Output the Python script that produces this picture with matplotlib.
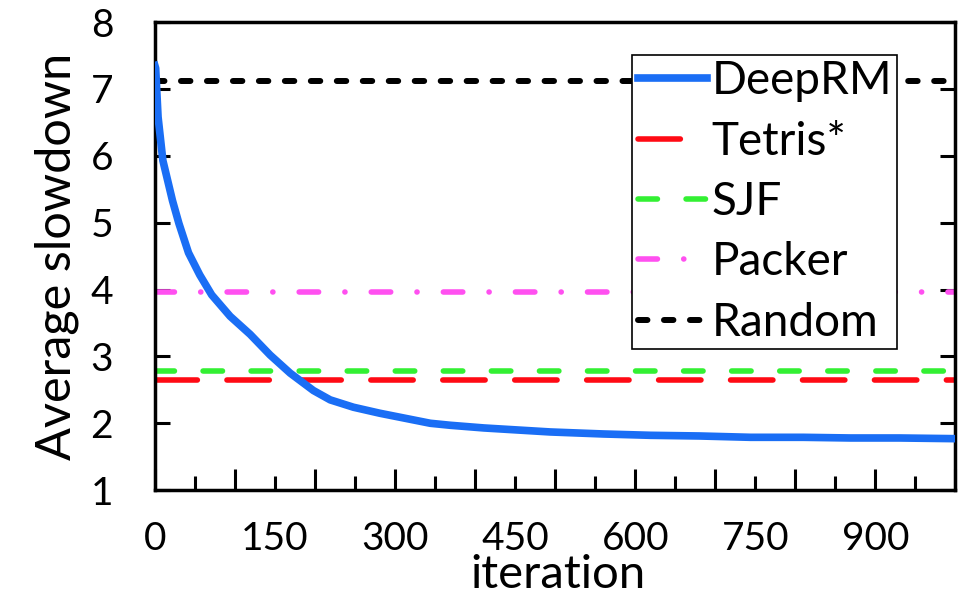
import matplotlib
matplotlib.use("Agg")
import matplotlib.pyplot as plt

plt.rcParams['font.family'] = ['Lato', 'DejaVu Sans']
plt.rcParams['lines.scale_dashes'] = False

# DeepRM learning curve
it = [0, 1, 4, 10, 22, 30, 42, 56, 71, 94, 119, 144, 169, 198, 219, 248, 281,
      344, 369, 411, 494, 560, 619, 680, 744, 810, 869, 930, 998]
deeprm = [7.35, 7.31, 6.58, 5.93, 5.33, 4.99, 4.55, 4.22, 3.92, 3.60, 3.33, 3.02,
          2.75, 2.49, 2.35, 2.24, 2.15, 2.0, 1.97, 1.93, 1.87, 1.84, 1.82, 1.81, 1.79,
          1.79, 1.78, 1.78, 1.77]

# flat baselines
tetris = 2.65
sjf = 2.78
packer = 3.97
random_ = 7.12

xticks_lab = [0, 150, 300, 450, 600, 750, 900]
yticks = [1, 2, 3, 4, 5, 6, 7, 8]

fig = plt.figure(figsize=(9.74, 5.97), dpi=100)
ax = fig.add_axes([0.159, 0.179, 0.822, 0.784])

ax.plot(it, deeprm, color='#1a6ef5', lw=5.5, label='DeepRM', zorder=5)
ax.axhline(tetris, color='#ff0a14', lw=4, dashes=(30.5, 21.3), dash_capstyle='round', label='Tetris*')
ax.axhline(sjf, color='#33f033', lw=4, dashes=(14, 20.6), dash_capstyle='round', label='SJF')
ax.axhline(packer, color='#ff50f0', lw=4, dashes=(14, 18.9, 0.1, 18.9), dash_capstyle='round', label='Packer')
ax.axhline(random_, color='black', lw=4.3, dashes=(6.8, 11.9), dash_capstyle='round', label='Random')

ax.set_xlim(0, 1000)
ax.set_ylim(1, 8)
ax.set_yticks(yticks)
ax.set_xticks(range(0, 1001, 100))
ax.set_xticks(range(50, 1000, 100), minor=True)
ax.set_xticklabels([])
ax.tick_params(axis='x', which='major', direction='in', length=15, width=2.2, top=False)
ax.tick_params(axis='x', which='minor', direction='in', length=10, width=2.2, top=False)
ax.tick_params(axis='y', direction='in', length=11, width=2.2, right=True,
               labelsize=28, pad=30)
for s in ax.spines.values():
    s.set_linewidth(2.5)

# labels every 150 on a second bottom axis
sec = ax.secondary_xaxis('bottom')
sec.set_xticks(xticks_lab)
sec.tick_params(length=0, labelsize=28, pad=22)
sec.spines['bottom'].set_visible(False)

ax.set_ylabel('Average slowdown', fontsize=35, labelpad=8)
ax.set_xlabel('iteration', fontsize=34)
ax.xaxis.set_label_coords(0.503, -0.137)

leg = ax.legend(loc='upper right', bbox_to_anchor=(0.9275, 0.93), fontsize=33,
                handlelength=1.5, handletextpad=0.1, labelspacing=0.4,
                borderpad=0.12, borderaxespad=0, fancybox=False, framealpha=1,
                edgecolor='black')
leg.get_frame().set_linewidth(1.2)
leg.set_zorder(10)

fig.savefig('out.png', dpi=100)
